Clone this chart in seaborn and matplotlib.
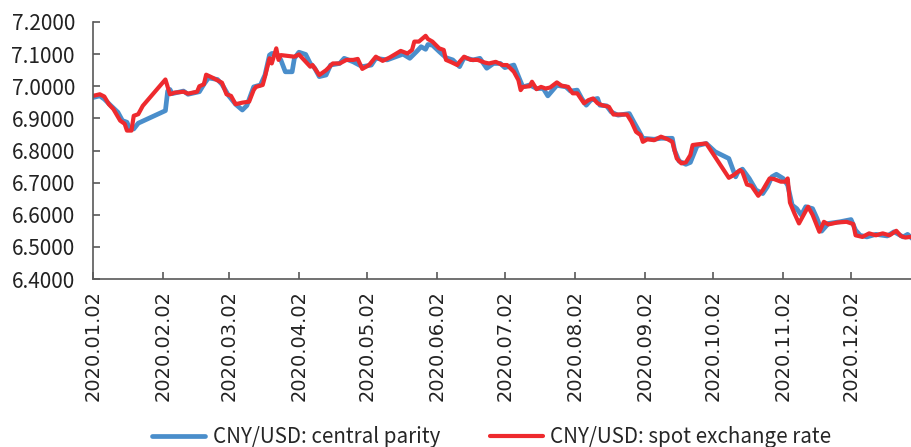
import numpy as np
import pandas as pd
import seaborn as sns
import matplotlib.pyplot as plt
from matplotlib.ticker import FormatStrFormatter

# ---------------- data ----------------
cp_dates = [
    "2020-01-02", "2020-01-05", "2020-01-07", "2020-01-10", "2020-01-13", "2020-01-15",
    "2020-01-17", "2020-01-18", "2020-01-20", "2020-01-22", "2020-02-03", "2020-02-04",
    "2020-02-05", "2020-02-06", "2020-02-11", "2020-02-13", "2020-02-18", "2020-02-20",
    "2020-02-22", "2020-02-26", "2020-02-28", "2020-03-02", "2020-03-05", "2020-03-08",
    "2020-03-10", "2020-03-13", "2020-03-16", "2020-03-18", "2020-03-20", "2020-03-21",
    "2020-03-23", "2020-03-25", "2020-03-27", "2020-03-30", "2020-03-31", "2020-04-02",
    "2020-04-05", "2020-04-07", "2020-04-09", "2020-04-11", "2020-04-14", "2020-04-16",
    "2020-04-20", "2020-04-22", "2020-04-26", "2020-04-30", "2020-05-04", "2020-05-06",
    "2020-05-11", "2020-05-18", "2020-05-21", "2020-05-24", "2020-05-26", "2020-05-28",
    "2020-05-29", "2020-05-31", "2020-06-03", "2020-06-06", "2020-06-09", "2020-06-12",
    "2020-06-14", "2020-06-18", "2020-06-21", "2020-06-24", "2020-06-27", "2020-06-30",
    "2020-07-02", "2020-07-06", "2020-07-09", "2020-07-10", "2020-07-13", "2020-07-16",
    "2020-07-19", "2020-07-21", "2020-07-25", "2020-07-29", "2020-07-31", "2020-08-03",
    "2020-08-05", "2020-08-07", "2020-08-09", "2020-08-12", "2020-08-13", "2020-08-16",
    "2020-08-18", "2020-08-21", "2020-08-26", "2020-08-28", "2020-08-30", "2020-09-01",
    "2020-09-06", "2020-09-09", "2020-09-14", "2020-09-15", "2020-09-17", "2020-09-20",
    "2020-09-22", "2020-09-25", "2020-09-29", "2020-10-03", "2020-10-09", "2020-10-12",
    "2020-10-13", "2020-10-15", "2020-10-18", "2020-10-21", "2020-10-24", "2020-10-26",
    "2020-10-28", "2020-10-30", "2020-11-02", "2020-11-04", "2020-11-06", "2020-11-08",
    "2020-11-10", "2020-11-12", "2020-11-15", "2020-11-17", "2020-11-19", "2020-11-22",
    "2020-11-27", "2020-12-02", "2020-12-04", "2020-12-06", "2020-12-09", "2020-12-13",
    "2020-12-18", "2020-12-21", "2020-12-25", "2020-12-27", "2020-12-29", "2020-12-31",
]
cp_values = [
    6.965, 6.970, 6.960, 6.939, 6.919, 6.893,
    6.888, 6.872, 6.867, 6.885, 6.924, 6.985,
    6.990, 6.977, 6.985, 6.975, 6.983, 7.006,
    7.026, 7.021, 7.006, 6.970, 6.944, 6.926,
    6.940, 6.998, 7.004, 7.035, 7.097, 7.102,
    7.102, 7.082, 7.045, 7.045, 7.087, 7.106,
    7.099, 7.071, 7.056, 7.030, 7.035, 7.066,
    7.071, 7.087, 7.076, 7.061, 7.066, 7.087,
    7.082, 7.100, 7.087, 7.108, 7.123, 7.115,
    7.130, 7.128, 7.108, 7.089, 7.082, 7.061,
    7.089, 7.082, 7.087, 7.056, 7.071, 7.071,
    7.058, 7.066, 7.014, 6.998, 7.004, 6.993,
    6.993, 6.970, 7.003, 6.998, 6.985, 6.988,
    6.962, 6.941, 6.957, 6.962, 6.941, 6.939,
    6.920, 6.910, 6.915, 6.889, 6.864, 6.838,
    6.835, 6.838, 6.838, 6.801, 6.767, 6.757,
    6.763, 6.815, 6.822, 6.796, 6.775, 6.718,
    6.733, 6.742, 6.713, 6.677, 6.666, 6.687,
    6.718, 6.726, 6.713, 6.692, 6.630, 6.619,
    6.599, 6.625, 6.619, 6.588, 6.549, 6.573,
    6.578, 6.585, 6.552, 6.536, 6.531, 6.539,
    6.534, 6.547, 6.531, 6.539, 6.526, 6.525,
]

spot_dates = [
    "2020-01-02", "2020-01-05", "2020-01-07", "2020-01-09", "2020-01-11", "2020-01-14",
    "2020-01-16", "2020-01-17", "2020-01-19", "2020-01-20", "2020-01-22", "2020-01-24",
    "2020-02-03", "2020-02-05", "2020-02-07", "2020-02-11", "2020-02-13", "2020-02-17",
    "2020-02-18", "2020-02-20", "2020-02-21", "2020-02-24", "2020-02-28", "2020-03-01",
    "2020-03-03", "2020-03-05", "2020-03-08", "2020-03-11", "2020-03-13", "2020-03-14",
    "2020-03-17", "2020-03-18", "2020-03-20", "2020-03-21", "2020-03-23", "2020-03-24",
    "2020-03-25", "2020-03-31", "2020-04-02", "2020-04-05", "2020-04-07", "2020-04-08",
    "2020-04-11", "2020-04-14", "2020-04-17", "2020-04-20", "2020-04-23", "2020-04-26",
    "2020-04-28", "2020-04-30", "2020-05-03", "2020-05-06", "2020-05-09", "2020-05-12",
    "2020-05-17", "2020-05-20", "2020-05-22", "2020-05-23", "2020-05-25", "2020-05-28",
    "2020-05-29", "2020-05-31", "2020-06-03", "2020-06-05", "2020-06-06", "2020-06-08",
    "2020-06-11", "2020-06-12", "2020-06-14", "2020-06-17", "2020-06-20", "2020-06-23",
    "2020-06-25", "2020-06-28", "2020-07-01", "2020-07-03", "2020-07-06", "2020-07-08",
    "2020-07-09", "2020-07-10", "2020-07-13", "2020-07-14", "2020-07-16", "2020-07-18",
    "2020-07-20", "2020-07-22", "2020-07-25", "2020-07-27", "2020-07-30", "2020-08-01",
    "2020-08-03", "2020-08-06", "2020-08-08", "2020-08-10", "2020-08-12", "2020-08-14",
    "2020-08-17", "2020-08-19", "2020-08-21", "2020-08-25", "2020-08-27", "2020-08-29",
    "2020-08-31", "2020-09-01", "2020-09-03", "2020-09-06", "2020-09-09", "2020-09-12",
    "2020-09-14", "2020-09-16", "2020-09-18", "2020-09-20", "2020-09-22", "2020-09-23",
    "2020-09-25", "2020-09-29", "2020-10-09", "2020-10-11", "2020-10-14", "2020-10-15",
    "2020-10-17", "2020-10-19", "2020-10-22", "2020-10-24", "2020-10-27", "2020-10-29",
    "2020-11-01", "2020-11-03", "2020-11-04", "2020-11-05", "2020-11-07", "2020-11-09",
    "2020-11-13", "2020-11-15", "2020-11-18", "2020-11-20", "2020-11-22", "2020-11-26",
    "2020-11-30", "2020-12-03", "2020-12-04", "2020-12-07", "2020-12-10", "2020-12-13",
    "2020-12-16", "2020-12-19", "2020-12-22", "2020-12-24", "2020-12-26", "2020-12-28",
    "2020-12-31",
]
spot_values = [
    6.970, 6.975, 6.968, 6.944, 6.929, 6.893,
    6.883, 6.862, 6.862, 6.908, 6.913, 6.939,
    7.021, 6.975, 6.980, 6.983, 6.977, 6.983,
    7.000, 7.006, 7.036, 7.026, 7.011, 6.975,
    6.970, 6.944, 6.949, 6.952, 6.988, 6.998,
    7.004, 7.030, 7.087, 7.071, 7.118, 7.082,
    7.097, 7.092, 7.099, 7.076, 7.061, 7.066,
    7.035, 7.050, 7.071, 7.071, 7.082, 7.082,
    7.085, 7.054, 7.066, 7.092, 7.079, 7.089,
    7.110, 7.102, 7.113, 7.139, 7.139, 7.157,
    7.147, 7.139, 7.118, 7.113, 7.082, 7.076,
    7.066, 7.076, 7.092, 7.082, 7.082, 7.074,
    7.071, 7.076, 7.066, 7.066, 7.045, 7.019,
    6.988, 6.998, 7.000, 7.014, 6.991, 6.998,
    6.993, 6.996, 7.012, 7.002, 6.998, 6.978,
    6.978, 6.947, 6.957, 6.962, 6.947, 6.941,
    6.936, 6.912, 6.912, 6.912, 6.889, 6.858,
    6.848, 6.827, 6.835, 6.832, 6.843, 6.835,
    6.827, 6.775, 6.760, 6.763, 6.786, 6.817,
    6.819, 6.822, 6.715, 6.723, 6.739, 6.733,
    6.694, 6.690, 6.659, 6.677, 6.713, 6.711,
    6.703, 6.703, 6.713, 6.638, 6.604, 6.573,
    6.625, 6.600, 6.547, 6.578, 6.570, 6.576,
    6.578, 6.571, 6.536, 6.531, 6.542, 6.536,
    6.542, 6.536, 6.550, 6.534, 6.529, 6.531,
    6.530,
]

series_names = ["CNY/USD: central parity", "CNY/USD: spot exchange rate"]
series_colors = ["#4a8ecb", "#ee2a2e"]

tick_dates = ["2020-01-02", "2020-02-02", "2020-03-02", "2020-04-02", "2020-05-02", "2020-06-02",
              "2020-07-02", "2020-08-02", "2020-09-02", "2020-10-02", "2020-11-02", "2020-12-02"]
tick_labels = ["2020.01.02", "2020.02.02", "2020.03.02", "2020.04.02", "2020.05.02", "2020.06.02",
               "2020.07.02", "2020.08.02", "2020.09.02", "2020.10.02", "2020.11.02", "2020.12.02"]

# ---------------- build frame ----------------
df_cp = pd.DataFrame({"date": pd.to_datetime(cp_dates), "rate": cp_values, "series": series_names[0]})
df_spot = pd.DataFrame({"date": pd.to_datetime(spot_dates), "rate": spot_values, "series": series_names[1]})

# ---------------- plot ----------------
sns.set_style("ticks")
plt.rcParams["font.family"] = ["Noto Sans CJK SC", "DejaVu Sans"]

fig = plt.figure(figsize=(9.11, 4.47), dpi=100)
ax = fig.add_axes([93 / 911, 168 / 447, 818 / 911, 257 / 447])

for d, c, lw in zip([df_cp, df_spot], series_colors, [3.4, 3.0]):
    sns.lineplot(data=d, x="date", y="rate", color=c, linewidth=lw,
                 estimator=None, ax=ax, legend=False)

start = pd.Timestamp("2020-01-02")
ax.set_xlim(start, start + pd.Timedelta(days=361.5))
ax.set_ylim(6.4, 7.2)
ax.set_yticks(np.linspace(6.4, 7.2, 9))
ax.yaxis.set_major_formatter(FormatStrFormatter("%.4f"))
ax.set_xticks(pd.to_datetime(tick_dates))
ax.set_xticklabels(tick_labels, rotation=90, family="DejaVu Sans", fontsize=14)
ax.set_xlabel("")
ax.set_ylabel("")

sns.despine(ax=ax)
for s in ["left", "bottom"]:
    ax.spines[s].set_color("#595959")
    ax.spines[s].set_linewidth(1.2)
ax.tick_params(axis="both", direction="in", length=5, width=1.2, color="#595959")
ax.tick_params(axis="y", labelsize=15, pad=13, labelcolor="#222222")
ax.tick_params(axis="x", pad=8, labelcolor="#222222")

fig.legend(ax.lines[:2], series_names, loc="center", bbox_to_anchor=(0.54, 0.022),
           ncol=2, frameon=False, fontsize=14.8, handlelength=2.55, handletextpad=0.38,
           columnspacing=2.45)

fig.savefig("out.png", dpi=100)
